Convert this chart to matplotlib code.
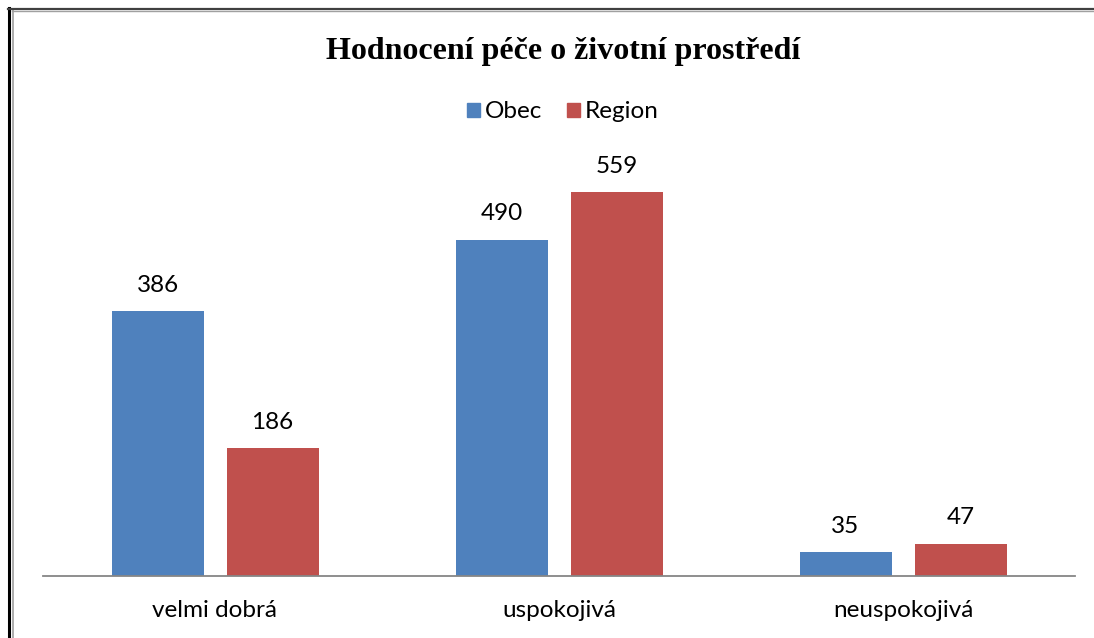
import matplotlib.pyplot as plt
from matplotlib.lines import Line2D
from matplotlib.patches import Patch
import numpy as np

kategorie = ['velmi dobrá', 'uspokojivá', 'neuspokojivá']
obec = [386, 490, 35]
region = [186, 559, 47]
nazev = 'Hodnocení péče o životní prostředí'

modra = '#4F81BD'
cervena = '#C0504D'

W, H = 1094, 638
fig = plt.figure(figsize=(W / 100, H / 100), dpi=100)

# plocha grafu v pixelech
x0, x1 = 43, 1075
y_osa, y_vrch = 576, 164
ax = fig.add_axes([x0 / W, (H - y_osa) / H, (x1 - x0) / W, (y_osa - y_vrch) / H])

x = np.arange(len(kategorie))
sirka = 92 / 344
mezera = 23 / 344
pozice_o = x - (sirka + mezera) / 2
pozice_r = x + (sirka + mezera) / 2

sl_o = ax.bar(pozice_o, obec, sirka, color=modra, label='Obec')
sl_r = ax.bar(pozice_r, region, sirka, color=cervena, label='Region')

pismo = ['Lato', 'DejaVu Sans']
for sl in (sl_o, sl_r):
    ax.bar_label(sl, padding=11, fontsize=17.5, family=pismo, color='black')

ax.set_xlim(-0.5, len(kategorie) - 0.5)
ax.set_ylim(0, 600)
ax.set_yticks([])
ax.set_xticks(x)
ax.set_xticklabels(kategorie, fontsize=17.5, family=pismo)
ax.tick_params(axis='x', length=0, pad=17)
for s in ('top', 'right', 'left'):
    ax.spines[s].set_visible(False)
ax.spines['bottom'].set_color('#868686')
ax.spines['bottom'].set_linewidth(1.3)

fig.text(563 / W, 1 - 52 / H, nazev, ha='center', va='center',
         fontsize=23, fontweight='bold', family='Liberation Serif')

ruce = [Patch(color=modra), Patch(color=cervena)]
fig.legend(ruce, ['Obec', 'Region'], loc='center', bbox_to_anchor=(563 / W, 1 - 112 / H),
           ncol=2, frameon=False, prop={'family': pismo, 'size': 17.5},
           handlelength=0.55, handleheight=0.55, handletextpad=0.2, columnspacing=1.0)

# okraj vlevo a nahoře
fig.add_artist(Line2D([8.5 / W, 8.5 / W], [0, 1 - 8 / H], color='black', lw=2.2))
fig.add_artist(Line2D([12.5 / W, 12.5 / W], [0, 1 - 10 / H], color='#a0a0a0', lw=1.2))
fig.add_artist(Line2D([8 / W, 1], [1 - 8.5 / H, 1 - 8.5 / H], color='#404040', lw=1.6))
fig.add_artist(Line2D([12 / W, 1], [1 - 10.5 / H, 1 - 10.5 / H], color='#a0a0a0', lw=1.0))

fig.savefig('out.png', dpi=100)
